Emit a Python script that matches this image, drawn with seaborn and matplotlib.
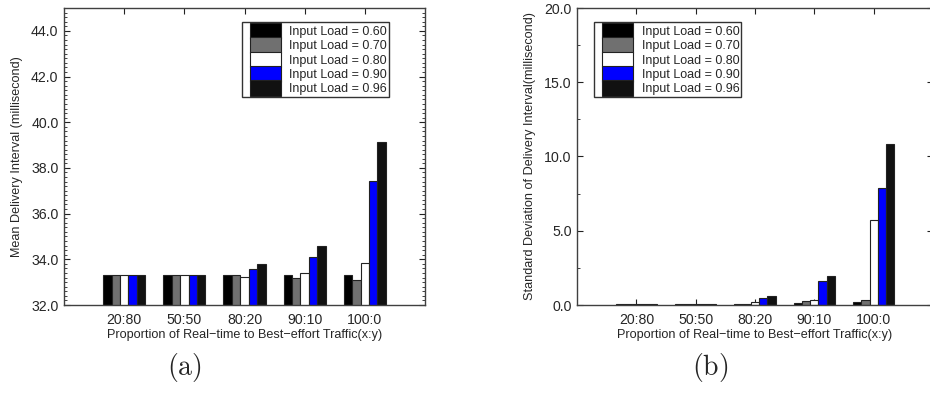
import numpy as np
import pandas as pd
import matplotlib
matplotlib.use("Agg")
import matplotlib.pyplot as plt
import seaborn as sns
from matplotlib.patches import Patch, Rectangle
from matplotlib.legend_handler import HandlerPatch
from matplotlib.ticker import MultipleLocator, FormatStrFormatter

categories = ['20:80', '50:50', '80:20', '90:10', '100:0']
loads = ['0.60', '0.70', '0.80', '0.90', '0.96']

mean_060 = [33.32, 33.32, 33.33, 33.33, 33.31]
mean_070 = [33.31, 33.31, 33.32, 33.20, 33.09]
mean_080 = [33.31, 33.31, 33.24, 33.39, 33.83]
mean_090 = [33.32, 33.32, 33.59, 34.10, 37.44]
mean_096 = [33.31, 33.31, 33.78, 34.57, 39.13]

std_060 = [0.08, 0.06, 0.07, 0.12, 0.17]
std_070 = [0.08, 0.07, 0.10, 0.25, 0.36]
std_080 = [0.09, 0.08, 0.22, 0.31, 5.72]
std_090 = [0.10, 0.09, 0.45, 1.61, 7.85]
std_096 = [0.08, 0.07, 0.63, 1.95, 10.83]

colors = ['#000000', '#707070', '#ffffff', '#0000ff', '#111111']

sns.set_style("white")
plt.rcParams['font.family'] = ['Liberation Sans', 'DejaVu Sans']
plt.rcParams['mathtext.fontset'] = 'cm'

def long_df(series):
    rows = []
    for ld, vals in zip(loads, series):
        for c, v in zip(categories, vals):
            rows.append({'cat': c, 'load': ld, 'val': v})
    return pd.DataFrame(rows)

df_mean = long_df([mean_060, mean_070, mean_080, mean_090, mean_096])
df_std = long_df([std_060, std_070, std_080, std_090, std_096])
palette = dict(zip(loads, colors))

W, H = 930, 419
fig = plt.figure(figsize=(W / 100, H / 100), dpi=100)
ax1 = fig.add_axes([64 / W, 1 - 305 / H, 361 / W, 297 / H])
ax2 = fig.add_axes([577 / W, 1 - 305 / H, 356 / W, 297 / H])

TICK_FS = 10.2
LAB_FS = 9.1
LEG_FS = 9.0
spine_c = '#404040'

class GapHandler(HandlerPatch):
    def create_artists(self, legend, orig_handle, xdescent, ydescent, width,
                       height, fontsize, trans):
        gap = 0.5 * fontsize
        r = Rectangle((-xdescent + gap, -ydescent - 0.5), width - gap, height + 1,
                      facecolor=orig_handle.get_facecolor(),
                      edgecolor='#222222', linewidth=0.8, transform=trans)
        return [r]

for ax, df, ylim, major, minor, ylabel, loc, anchor in [
        (ax1, df_mean, (32, 45), 2.0, 0.2,
         'Mean Delivery Interval (millisecond)', 'upper right', (0.900, 0.953)),
        (ax2, df_std, (0, 20), 5.0, 2.5,
         'Standard Deviation of Delivery Interval(millisecond)', 'upper left', (0.048, 0.953))]:
    sns.barplot(data=df, x='cat', y='val', hue='load', order=categories,
                hue_order=loads, palette=palette, width=0.7, gap=0,
                edgecolor='#222222', linewidth=0.8, saturation=1,
                legend=False, ax=ax)
    ax.set_xlim(-1, 5)
    ax.set_ylim(*ylim)
    ax.yaxis.set_major_locator(MultipleLocator(major))
    ax.yaxis.set_minor_locator(MultipleLocator(minor))
    ax.yaxis.set_major_formatter(FormatStrFormatter('%.1f'))
    ax.tick_params(axis='both', which='major', direction='in', length=4,
                   width=0.8, color='#222222', labelsize=TICK_FS, pad=4,
                   top=True, right=True, bottom=True, left=True)
    ax.tick_params(axis='x', which='major', pad=6)
    ax.tick_params(axis='y', which='minor', direction='in', length=2.5,
                   width=0.6, color='#222222', left=True, right=True)
    ax.set_xlabel('Proportion of Real\u2212time to Best\u2212effort Traffic(x:y)',
                  fontsize=LAB_FS, labelpad=1)
    ax.set_ylabel(ylabel, fontsize=LAB_FS, labelpad=6)
    for s in ax.spines.values():
        s.set_color(spine_c)
        s.set_linewidth(1.0)
        s.set_visible(True)
    handles = [Patch(facecolor=c, edgecolor='#222222') for c in colors]
    labels = ['Input Load = ' + ld for ld in loads]
    leg = ax.legend(handles, labels, loc=loc, bbox_to_anchor=anchor,
                    fontsize=LEG_FS, frameon=True, fancybox=False,
                    handlelength=3.0, handleheight=1.38, labelspacing=0,
                    handletextpad=0.65, borderpad=0.15, borderaxespad=0,
                    handler_map={Patch: GapHandler()})
    leg.get_frame().set_edgecolor('#000000')
    leg.get_frame().set_linewidth(1.0)

fig.text(184 / W, 1 - 367 / H, r'$\mathrm{(a)}$', fontsize=20, ha='center', va='center')
fig.text(710 / W, 1 - 367 / H, r'$\mathrm{(b)}$', fontsize=20, ha='center', va='center')

fig.savefig('out.png', dpi=100)
